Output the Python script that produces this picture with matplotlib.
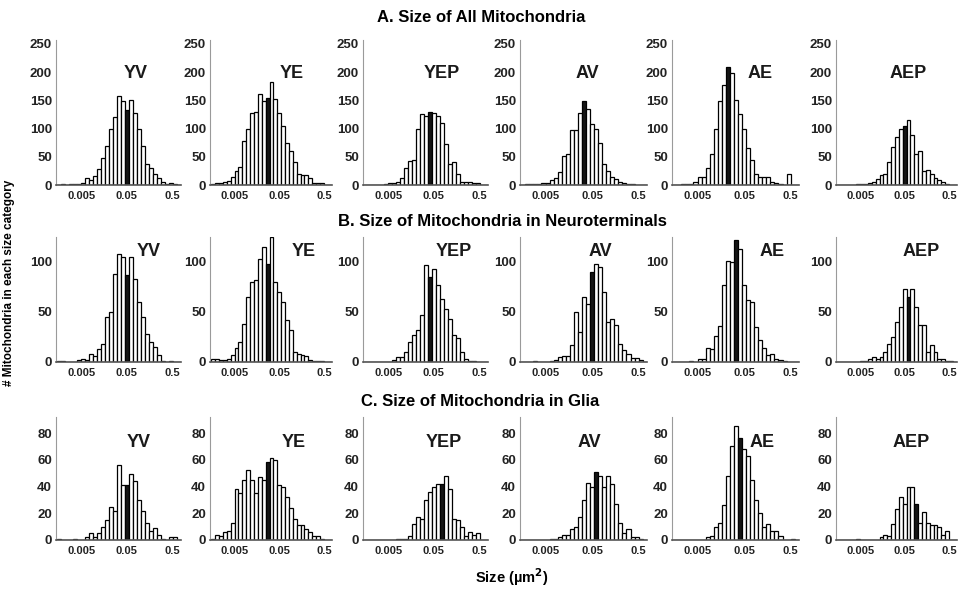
import numpy as np
import matplotlib.pyplot as plt

plt.rcParams['font.family'] = ['Liberation Sans', 'DejaVu Sans']
plt.rcParams['font.weight'] = 'bold'
plt.rcParams['mathtext.default'] = 'bf'

groups = ['YV', 'YE', 'YEP', 'AV', 'AE', 'AEP']
row_titles = ['A. Size of All Mitochondria',
              'B. Size of Mitochondria in Neuroterminals',
              'C. Size of Mitochondria in Glia']

# counts per log size bin; bin 17 is centred on 0.05 um^2
all_yv = [0,1,0,1,1,1,3,12,8,16,28,47,70,100,120,158,148,133,150,127,100,70,38,31,20,12,6,2,3,2,0,0,0]
all_ye = [2,3,3,5,7,15,25,32,78,100,128,130,162,148,155,182,152,128,105,75,60,40,20,18,17,12,3,3,3,0,0,0,0]
all_yep = [0,0,0,0,0,2,4,3,5,12,30,42,45,100,125,122,130,128,122,110,72,38,40,20,5,5,5,3,3,0,0,0,0]
all_av = [0,2,1,2,2,3,4,8,12,23,52,55,97,97,128,148,135,108,100,75,37,25,15,10,6,4,2,1,0,0,0,0,0]
all_ae = [0,0,1,1,2,5,15,15,30,55,100,148,178,210,198,150,125,100,65,45,20,15,15,15,5,3,2,0,20,0,0,0,0]
all_aep = [0,0,0,0,0,1,1,2,4,5,10,17,20,40,68,85,100,105,115,88,55,60,25,27,20,13,8,5,2,0,0,0,0]

neu_yv = [1,1,0,0,0,2,3,2,8,6,13,18,45,50,88,108,105,87,105,83,60,45,28,20,15,7,1,0,1,0,0,0,0]
neu_ye = [3,3,2,2,3,7,14,20,38,65,80,82,103,115,98,125,80,70,60,42,32,10,8,7,6,2,1,1,1,0,0,0,0]
neu_yep = [0,0,0,0,0,0,0,2,5,5,10,20,27,32,47,97,85,93,77,63,53,43,27,24,10,3,1,1,0,0,0,0,0]
neu_av = [0,0,0,1,0,0,0,1,2,5,6,6,17,50,30,65,58,90,98,95,70,40,43,37,18,12,8,4,4,2,0,0,0]
neu_ae = [0,0,0,0,1,0,3,3,14,13,26,36,77,101,100,122,113,77,62,60,35,22,14,7,8,3,2,1,0,0,0,0,0]
neu_aep = [0,0,0,0,0,0,1,1,3,5,3,5,10,18,25,40,55,73,65,73,55,37,37,10,17,10,3,3,1,1,0,0,0]

gli_yv = [1,0,0,0,1,0,0,2,5,2,5,10,15,25,22,56,41,41,49,44,30,22,13,7,9,4,1,0,2,2,0,0,0]
gli_ye = [1,4,3,6,7,13,38,35,45,52,45,35,47,45,58,61,60,41,40,32,24,16,11,11,8,6,3,3,1,0,0,0,0]
gli_yep = [0,0,0,0,0,0,0,0,1,1,1,3,12,17,16,30,36,40,42,42,48,38,16,15,10,3,6,4,5,0,0,0,0]
gli_av = [0,0,0,0,0,0,0,1,1,2,4,4,8,10,17,30,43,40,51,48,40,48,42,27,13,5,8,2,2,1,0,0,0]
gli_ae = [0,0,0,0,0,0,0,0,2,3,10,13,26,48,70,85,76,68,63,45,30,20,10,12,7,7,3,0,0,1,0,0,0]
gli_aep = [0,0,0,0,0,1,0,0,0,0,0,2,4,3,12,23,32,27,40,40,27,13,21,13,11,11,10,4,7,0,0,0,0]

# bin drawn in black (group median) for each panel
black_all = [17, 14, 16, 15, 13, 17]
black_neu = [17, 14, 16, 17, 15, 18]
black_gli = [17, 14, 19, 18, 16, 20]

yticks_rows = [[0, 50, 100, 150, 200, 250], [0, 50, 100], [0, 20, 40, 60, 80]]
ymax_rows = [257, 125, 92]

rows = [[all_yv, all_ye, all_yep, all_av, all_ae, all_aep],
        [neu_yv, neu_ye, neu_yep, neu_av, neu_ae, neu_aep],
        [gli_yv, gli_ye, gli_yep, gli_av, gli_ae, gli_aep]]
blacks = [black_all, black_neu, black_gli]

step = 0.087
edges = 10 ** (np.log10(0.05) + step * (np.arange(34) - 17.5))

W, H = 961, 591
fig = plt.figure(figsize=(W / 100, H / 100), dpi=100)

col_left = [56, 210, 363, 520, 672, 836]
col_w = [125, 122, 125, 127, 127, 121]
row_top = [40, 237, 417]
row_bot = [185, 362, 540]
name_x = [0.64, 0.67, 0.63, 0.53, 0.69, 0.60]
name_shift = [0.0, 0.1, 0.02]
name_y = [0.77, 0.88, 0.79]

for r in range(3):
    for c in range(6):
        ax = fig.add_axes([col_left[c] / W, 1 - row_bot[r] / H,
                           col_w[c] / W, (row_bot[r] - row_top[r]) / H])
        counts = rows[r][c]
        colors = ['white'] * len(counts)
        colors[blacks[r][c]] = '#151515'
        ax.bar(edges[:-1], counts, width=np.diff(edges), align='edge',
               color=colors, edgecolor='black', linewidth=0.9)
        ax.set_xscale('log')
        ax.set_xlim(10 ** -2.85, 10 ** -0.12)
        ax.set_ylim(0, ymax_rows[r])
        ax.set_xticks([0.005, 0.05, 0.5])
        ax.set_xticklabels(['0.005', '0.05', '0.5'])
        ax.minorticks_off()
        ax.set_yticks(yticks_rows[r])
        ax.tick_params(axis='x', length=0, pad=4, labelsize=8, colors='#222222')
        ax.tick_params(axis='y', length=0, pad=3, labelsize=9.5, colors='#222222')
        for s in ['top', 'right']:
            ax.spines[s].set_visible(False)
        ax.spines['left'].set_color('#9a9a9a')
        ax.spines['bottom'].set_color('#555555')
        ax.spines['bottom'].set_linewidth(1.2)
        ax.set_facecolor('none')
        ax.text(min(name_x[c] + name_shift[r], 0.85), name_y[r], groups[c],
                transform=ax.transAxes, ha='center', va='center',
                fontsize=13, fontweight='bold', color='#1a1a1a')

fig.text(481 / W, 1 - 17 / H, row_titles[0], ha='center', va='center', fontsize=12)
fig.text(502 / W, 1 - 221 / H, row_titles[1], ha='center', va='center', fontsize=12)
fig.text(480 / W, 1 - 402 / H, row_titles[2], ha='center', va='center', fontsize=12)
fig.text(512 / W, 1 - 577 / H, 'Size (µm$^2$)', ha='center', va='center', fontsize=10.5)
fig.text(9 / W, 1 - 283 / H, '# Mitochondria in each size category',
         ha='center', va='center', rotation=90, fontsize=8.5)

fig.savefig('out.png', dpi=100)
